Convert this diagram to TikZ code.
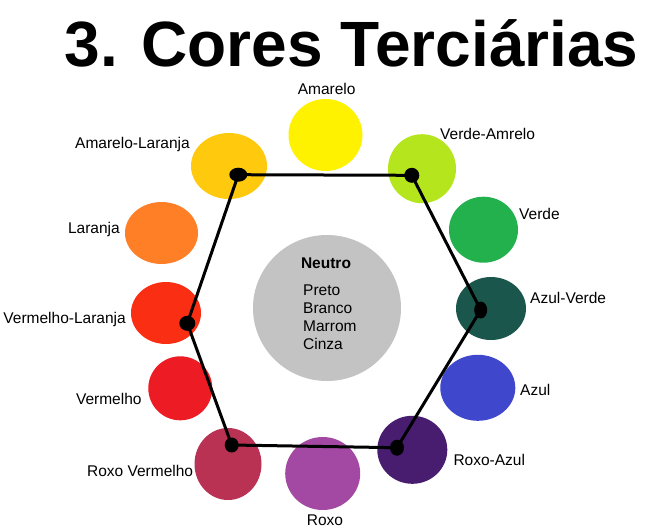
\documentclass[tikz,border=0pt]{standalone}
\usepackage{fontspec}
\setmainfont{Liberation Sans}
\usetikzlibrary{shapes.geometric}
\definecolor{cAmarelo}{HTML}{FFF200}
\definecolor{cVerdeAmrelo}{HTML}{B5E61D}
\definecolor{cVerde}{HTML}{22B14C}
\definecolor{cAzulVerde}{HTML}{1A564C}
\definecolor{cAzul}{HTML}{3F48CC}
\definecolor{cRoxoAzul}{HTML}{481C6E}
\definecolor{cRoxo}{HTML}{A349A4}
\definecolor{cRoxoVermelho}{HTML}{B93254}
\definecolor{cVermelho}{HTML}{ED1C24}
\definecolor{cVermelhoLaranja}{HTML}{F92E12}
\definecolor{cLaranja}{HTML}{FF7F27}
\definecolor{cAmareloLaranja}{HTML}{FFC90E}
\definecolor{cNeutro}{HTML}{C3C3C3}
\tikzset{
  ball/.style n args={3}{ellipse, fill=#1, draw=none, inner sep=0pt, minimum width=#2, minimum height=#3},
  dotnode/.style 2 args={ellipse, fill=black, draw=none, inner sep=0pt, minimum width=#1, minimum height=#2},
  lbl/.style={font=\fontsize{15.5}{18}\selectfont, inner sep=0pt, text=black},
  hexline/.style={line width=3pt, black, line join=round, line cap=round},
}
\begin{document}
\begin{tikzpicture}[x=1pt,y=-1pt]
\useasboundingbox (0,0) rectangle (645,528);
\fill[white] (0,0) rectangle (645,528);
% title
\node[font=\fontsize{64}{70}\selectfont\bfseries, anchor=base, inner sep=0pt] (title) at (351.5,66.7) {3. Cores Terciárias};
% colour circles
\node[ball={cAmarelo}{74pt}{72pt}] (amarelo) at (325.5,135) {};
\node[ball={cVerdeAmrelo}{68pt}{69pt}] (verdeamrelo) at (422,168.7) {};
\node[ball={cVerde}{69pt}{66pt}] (verde) at (483.5,229.7) {};
\node[ball={cAzulVerde}{70pt}{63pt}] (azulverde) at (491,308.5) {};
\node[ball={cAzul}{75pt}{66pt}] (azul) at (477.8,387.8) {};
\node[ball={cRoxoAzul}{70pt}{68pt}] (roxoazul) at (412.3,449.8) {};
\node[ball={cRoxo}{75pt}{73pt}] (roxo) at (322.7,473.5) {};
\node[ball={cRoxoVermelho}{67pt}{72pt}] (roxovermelho) at (228,464) {};
\node[ball={cVermelho}{64pt}{64pt}] (vermelho) at (180.3,388.3) {};
\node[ball={cVermelhoLaranja}{70pt}{62pt}] (vermelholaranja) at (166,313) {};
\node[ball={cLaranja}{73pt}{62pt}] (laranja) at (161.5,233) {};
\node[ball={cAmareloLaranja}{76pt}{66pt}] (amarelolaranja) at (229,166) {};
\node[ball={cNeutro}{148pt}{146pt}] (neutro) at (327,308) {};
% labels
\node[lbl, anchor=base] (tAmarelo) at (326.7,94) {Amarelo};
\node[lbl, anchor=base east] (tAmareloLaranja) at (190,148.2) {Amarelo-Laranja};
\node[lbl, anchor=base west] (tVerdeAmrelo) at (440,139.8) {Verde-Amrelo};
\node[lbl, anchor=base east] (tLaranja) at (120,233.5) {Laranja};
\node[lbl, anchor=base west] (tVerde) at (519,219.5) {Verde};
\node[lbl, anchor=base east] (tVermelhoLaranja) at (126,323.5) {Vermelho-Laranja};
\node[lbl, anchor=base west] (tAzulVerde) at (530,303.5) {Azul-Verde};
\node[lbl, anchor=base east] (tVermelho) at (141.7,404.8) {Vermelho};
\node[lbl, anchor=base west] (tAzul) at (520,395.5) {Azul};
\node[lbl, anchor=base east] (tRoxoVermelho) at (193.3,476.5) {Roxo Vermelho};
\node[lbl, anchor=base west] (tRoxoAzul) at (453.3,465.5) {Roxo-Azul};
\node[lbl, anchor=base] (tRoxo) at (325,525.5) {Roxo};
% neutral text
\node[lbl, font=\fontsize{15.5}{18}\selectfont\bfseries, anchor=base] (tNeutro) at (326,268) {Neutro};
\node[lbl, anchor=base west] (tPreto) at (303,295.5) {Preto};
\node[lbl, anchor=base west] (tBranco) at (303,313) {Branco};
\node[lbl, anchor=base west] (tMarrom) at (303,331) {Marrom};
\node[lbl, anchor=base west] (tCinza) at (303,349) {Cinza};
% hexagon dots
\node[dotnode={18pt}{14pt}] (dA) at (238.3,174.7) {};
\node[dotnode={15pt}{15pt}] (dB) at (411.8,175.3) {};
\node[dotnode={13pt}{17pt}] (dC) at (480.7,310) {};
\node[dotnode={14pt}{16pt}] (dD) at (397,447.7) {};
\node[dotnode={14pt}{15pt}] (dE) at (231.7,445) {};
\node[dotnode={16pt}{15pt}] (dF) at (187.3,323.3) {};
% hexagon
\draw[hexline] (dA.center) -- (dB.center) -- (dC.center) -- (dD.center) -- (dE.center) -- (dF.center) -- cycle;
\end{tikzpicture}
\end{document}
